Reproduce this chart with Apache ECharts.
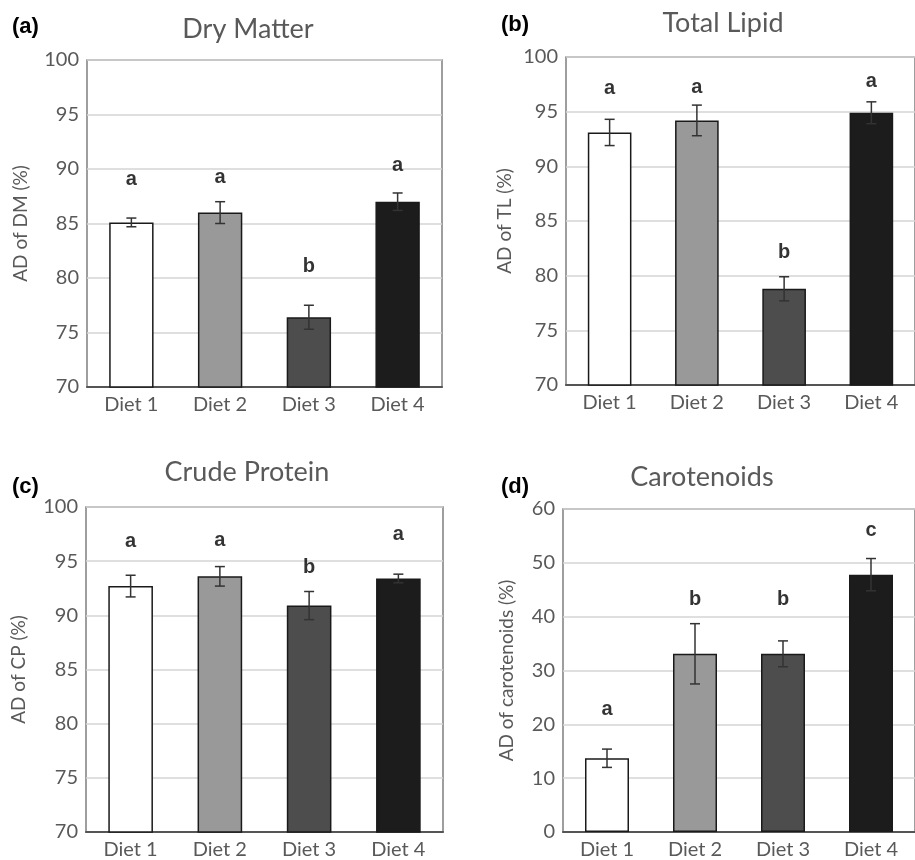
<!DOCTYPE html>
<html>
<head>
<meta charset="utf-8">
<script src="https://cdn.jsdelivr.net/npm/echarts@6/dist/echarts.min.js"></script>
<style>
  html, body { margin: 0; padding: 0; background: #fff; }
  #chart { width: 915px; height: 860px; }
</style>
</head>
<body>
<div id="chart"></div>
<script>
// Apparent digestibility (%) of four diets, mean ± SE, with significance letters
const categories = ['Diet 1', 'Diet 2', 'Diet 3', 'Diet 4'];

const dmMean = [85.1, 86.0, 76.4, 87.0];
const dmErr = [0.4, 1.0, 1.1, 0.8];
const dmLetters = ['a', 'a', 'b', 'a'];
const dmLetterAt = [89.0, 89.2, 81.1, 90.3];

const tlMean = [93.1, 94.2, 78.8, 94.9];
const tlErr = [1.2, 1.4, 1.1, 1.0];
const tlLetters = ['a', 'a', 'b', 'a'];
const tlLetterAt = [97.1, 97.2, 82.1, 97.8];

const cpMean = [92.7, 93.6, 90.9, 93.4];
const cpErr = [1.0, 0.9, 1.3, 0.4];
const cpLetters = ['a', 'a', 'b', 'a'];
const cpLetterAt = [96.8, 96.9, 94.4, 97.5];

const carMean = [13.7, 33.1, 33.1, 47.8];
const carErr = [1.7, 5.6, 2.4, 3.0];
const carLetters = ['a', 'b', 'b', 'c'];
const carLetterAt = [22.8, 43.1, 43.1, 56.0];

const yTicksPct = { min: 70, max: 100, interval: 5 };
const yTicksCar = { min: 0, max: 60, interval: 10 };

const barColors = ['#ffffff', '#999999', '#4d4d4d', '#1c1c1c'];
const FONT = 'Lato, "Open Sans", sans-serif';
const GREY = '#595959';

const panels = [
  { title: 'Dry Matter', tag: '(a)', yName: 'AD of DM (%)', mean: dmMean, err: dmErr, letters: dmLetters, letterAt: dmLetterAt, scale: yTicksPct,
    grid: { left: 87, top: 60, width: 355, height: 327 }, nameGap: 57, titleXY: [248, 29], tagXY: [12, 27] },
  { title: 'Total Lipid', tag: '(b)', yName: 'AD of TL (%)', mean: tlMean, err: tlErr, letters: tlLetters, letterAt: tlLetterAt, scale: yTicksPct,
    grid: { left: 566, top: 57, width: 356, height: 328 }, nameGap: 52, titleXY: [723, 23], tagXY: [501, 25] },
  { title: 'Crude Protein', tag: '(c)', yName: 'AD of CP (%)', mean: cpMean, err: cpErr, letters: cpLetters, letterAt: cpLetterAt, scale: yTicksPct,
    grid: { left: 86, top: 507, width: 357, height: 327 }, nameGap: 58, titleXY: [247, 472], tagXY: [12, 487] },
  { title: 'Carotenoids', tag: '(d)', yName: 'AD of carotenoids (%)', mean: carMean, err: carErr, letters: carLetters, letterAt: carLetterAt, scale: yTicksCar,
    grid: { left: 563, top: 509, width: 355, height: 325 }, nameGap: 47, titleXY: [702, 477], tagXY: [501, 487] }
];

const grids = [], xAxes = [], yAxes = [], series = [], graphics = [];

panels.forEach((p, k) => {
  grids.push(Object.assign({ show: true, borderColor: '#7f7f7f', borderWidth: 1.5, backgroundColor: 'transparent' }, p.grid));
  xAxes.push({
    type: 'category', gridIndex: k, data: categories,
    axisTick: { show: false },
    axisLine: { lineStyle: { color: '#555', width: 2 } },
    axisLabel: { color: GREY, fontFamily: FONT, fontSize: 20, margin: 8 },
    splitLine: { show: false }
  });
  yAxes.push({
    type: 'value', gridIndex: k,
    min: p.scale.min, max: p.scale.max, interval: p.scale.interval,
    name: p.yName, nameLocation: 'middle', nameGap: p.nameGap,
    nameTextStyle: { color: GREY, fontFamily: FONT, fontSize: 19 },
    axisLine: { show: false }, axisTick: { show: false },
    axisLabel: { color: GREY, fontFamily: FONT, fontSize: 20, margin: 8 },
    splitLine: { lineStyle: { color: '#d4d4d4', width: 1.5 } }
  });

  // bars
  series.push({
    type: 'bar', xAxisIndex: k, yAxisIndex: k, barWidth: '50%',
    data: p.mean.map((v, i) => ({
      value: v,
      itemStyle: { color: barColors[i], borderColor: '#1a1a1a', borderWidth: 1.5 }
    })),
    z: 2
  });

  // error bars (mean ± SE)
  series.push({
    type: 'custom', xAxisIndex: k, yAxisIndex: k, z: 3,
    data: p.mean.map((v, i) => [i, v - p.err[i], v + p.err[i]]),
    renderItem: function (params, api) {
      const lo = api.coord([api.value(0), api.value(1)]);
      const hi = api.coord([api.value(0), api.value(2)]);
      const cap = 5;
      const style = { stroke: '#333', lineWidth: 1.5 };
      return {
        type: 'group',
        children: [
          { type: 'line', shape: { x1: hi[0], y1: hi[1], x2: lo[0], y2: lo[1] }, style: style },
          { type: 'line', shape: { x1: hi[0] - cap, y1: hi[1], x2: hi[0] + cap, y2: hi[1] }, style: style },
          { type: 'line', shape: { x1: lo[0] - cap, y1: lo[1], x2: lo[0] + cap, y2: lo[1] }, style: style }
        ]
      };
    }
  });

  // significance letters
  series.push({
    type: 'scatter', xAxisIndex: k, yAxisIndex: k, z: 4,
    symbolSize: 0, silent: true,
    data: p.letterAt.map((v, i) => [i, v]),
    label: {
      show: true, position: 'inside',
      formatter: (d) => p.letters[d.dataIndex],
      color: '#000', fontFamily: 'Arial, "Liberation Sans", sans-serif', fontWeight: 'bold', fontSize: 20
    }
  });

  graphics.push({
    type: 'text', x: p.titleXY[0], y: p.titleXY[1],
    style: { text: p.title, textAlign: 'center', textVerticalAlign: 'middle', fill: GREY, font: '27px ' + FONT }
  });
  graphics.push({
    type: 'text', x: p.tagXY[0], y: p.tagXY[1],
    style: { text: p.tag, textAlign: 'left', textVerticalAlign: 'middle', fill: '#000', font: 'bold 22px Arial, "Liberation Sans", sans-serif' }
  });
});

const chart = echarts.init(document.getElementById('chart'), null, { renderer: 'canvas' });
chart.setOption({
  backgroundColor: '#fff',
  animation: false,
  grid: grids,
  xAxis: xAxes,
  yAxis: yAxes,
  series: series,
  graphic: graphics
});
</script>
</body>
</html>
